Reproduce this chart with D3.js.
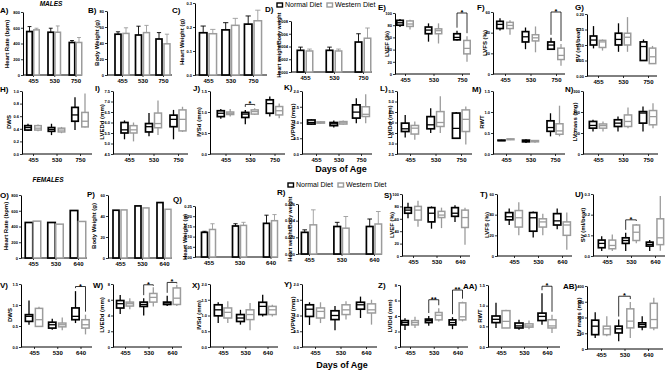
<!DOCTYPE html>
<meta charset="utf-8">
<style>
body{margin:0;background:#fff;}
svg text{font-family:Arial,'Liberation Sans',sans-serif;}
</style>
<body>
<svg id="fig" width="669" height="373"></svg>
<script src="https://cdn.jsdelivr.net/npm/d3@7"></script>
<script>
"use strict";

// groups / series
const daysM = ["455", "530", "750"];
const daysF = ["455", "530", "640"];
const diets = ["Normal Diet", "Western Diet"];

// bar panels: [normal, western] per group, mean and top of error bar
const hrM = [[552, 573], [543, 543], [413, 413]];
const hrM_sd = [[615, 594], [594, 623], [438, 476]];
const bwM = [[51, 52], [50, 53], [45, 39]];
const bwM_sd = [[54, 59], [61, 62], [53, 51]];
const hwM = [[0.176, 0.172], [0.188, 0.207], [0.212, 0.226]];
const hwM_sd = [[0.204, 0.19], [0.218, 0.236], [0.246, 0.27]];
const hwbwM = [[0.0034, 0.0033], [0.0034, 0.0033], [0.0047, 0.0053]];
const hwbwM_sd = [[0.0039, 0.0036], [0.0039, 0.0036], [0.006, 0.0069]];

const hrF = [[451, 468], [451, 430], [603, 464]];
const bwF = [[45.5, 45.8], [49.6, 47.7], [52.8, 46.4]];
const hwF = [[0.121, 0.135], [0.152, 0.155], [0.165, 0.178]];
const hwF_sd = [[0.126, 0.163], [0.163, 0.17], [0.205, 0.208]];
const hwbwF = [[0.0026, 0.0035], [0.0033, 0.0031], [0.0033, 0.0036]];
const hwbwF_sd = [[0.0029, 0.0053], [0.0038, 0.0045], [0.0042, 0.0051]];

// box panels: per group [normal, western], each [min, q1, median, q3, max]
const lvefM = [[[77,80,84,88,90],[73,78,82,87,89]], [[53,66,72,77,83],[50,66,71,74,83]], [[55,56,60,66,71],[20,33,42,55,62]]];
const lvfsM = [[[42,44,48,51,54],[38,44,47,50,52]], [[24,31,36,41,45],[21,32,35,38,46]], [[24,24,28,31,35],[8,14,18,25,29]]];
const svM = [[[0.089,0.1,0.116,0.129,0.161],[0.082,0.092,0.11,0.115,0.118]], [[0.078,0.1,0.118,0.138,0.17],[0.078,0.1,0.125,0.138,0.19]], [[0.05,0.05,0.095,0.11,0.118],[0.04,0.04,0.062,0.09,0.097]]];
const dwsM = [[[0.37,0.38,0.42,0.45,0.48],[0.36,0.38,0.41,0.45,0.47]], [[0.30,0.36,0.39,0.42,0.48],[0.33,0.35,0.38,0.41,0.43]], [[0.38,0.52,0.62,0.74,0.90],[0.42,0.43,0.52,0.66,0.96]]];
const lvedM = [[[5.2,5.5,5.65,6.0,6.1],[5.1,5.5,5.65,5.85,6.0]], [[5.35,5.55,5.8,5.95,6.45],[5.4,5.75,5.95,6.45,7.05]], [[5.2,5.8,6.15,6.35,6.6],[5.55,5.6,6.15,6.6,6.75]]];
const ivsM = [[[0.84,0.89,0.97,1.03,1.07],[0.89,0.94,0.97,1.0,1.07]], [[0.71,0.87,0.95,0.99,1.05],[0.93,0.95,1.01,1.05,1.09]], [[0.89,0.97,1.2,1.29,1.37],[0.85,0.93,1.03,1.13,1.2]]];
const lvpwM = [[[0.93,0.95,1.0,1.08,1.1],[0.95,0.98,1.0,1.02,1.05]], [[0.84,0.9,0.96,1.0,1.06],[0.93,0.95,0.99,1.03,1.06]], [[0.98,1.14,1.33,1.56,1.77],[0.98,1.19,1.26,1.5,1.9]]];
const lvidM = [[[3.29,3.57,3.7,3.97,4.36],[3.18,3.45,3.73,3.86,4.05]], [[3.5,3.7,3.89,4.28,4.68],[3.5,3.81,4.0,4.52,5.25]], [[3.24,3.25,3.72,4.45,4.5],[2.95,3.57,4.15,4.6,4.76]]];
const rwtM = [[[0.31,0.32,0.32,0.33,0.34],[0.33,0.34,0.35,0.36,0.37]], [[0.26,0.29,0.31,0.33,0.35],[0.27,0.29,0.31,0.32,0.33]], [[0.42,0.54,0.63,0.79,0.97],[0.42,0.47,0.55,0.72,1.15]]];
const lvmM = [[[107,123,136,155,163],[107,123,135,143,155]], [[107,131,147,163,178],[123,131,155,186,222]], [[107,147,195,202,226],[123,139,178,207,242]]];

const lvefF = [[[61,69,74,78,86],[47,58,74,80,89]], [[44,55,69,78,80],[45,62,66,72,78]], [[55,64,69,78,82],[18,46,62,74,78]]];
const lvfsF = [[[30,35,38,42,46],[20,28,37,44,52]], [[18,24,37,42,43],[20,28,33,36,41]], [[26,30,34,41,46],[6,20,30,33,42]]];
const svF = [[[0.024,0.04,0.061,0.077,0.095],[0.024,0.035,0.051,0.077,0.104]], [[0.024,0.061,0.075,0.088,0.112],[0.062,0.075,0.115,0.15,0.155]], [[0.024,0.048,0.056,0.067,0.078],[0.025,0.055,0.088,0.18,0.29]]];
const dwsF = [[[0.53,0.61,0.73,0.77,1.11],[0.48,0.49,0.65,0.92,0.96]], [[0.41,0.45,0.53,0.59,0.67],[0.40,0.48,0.53,0.57,0.70]], [[0.57,0.65,0.73,0.93,1.33],[0.30,0.45,0.53,0.65,0.77]]];
const lvedF = [[[4.2,4.95,5.5,5.9,6.6],[4.8,5.2,5.5,5.7,6.2]], [[4.0,5.15,5.4,5.7,6.2],[5.15,5.7,6.3,6.8,7.6]], [[5.2,5.4,5.6,5.7,6.5],[5.2,5.4,6.2,7.5,7.9]]];
const ivsF = [[[0.76,0.99,1.18,1.34,1.42],[0.76,0.92,1.1,1.24,1.45]], [[0.71,0.81,0.92,1.03,1.18],[0.53,0.87,1.03,1.18,1.4]], [[0.97,1.03,1.29,1.42,1.66],[0.97,1.03,1.18,1.29,1.34]]];
const lvpwF = [[[0.7,0.97,1.2,1.34,1.42],[0.76,0.92,1.13,1.24,1.42]], [[0.53,0.87,1.0,1.15,1.3],[0.87,1.03,1.18,1.34,1.45]], [[0.92,1.2,1.34,1.42,1.6],[0.71,1.08,1.18,1.37,1.5]]];
const lvidF = [[[2.2,2.85,3.15,3.4,3.7],[2.45,2.85,3.15,3.4,3.9]], [[2.75,3.15,3.4,3.6,4.0],[3.3,3.5,4.1,4.45,5.0]], [[2.3,2.85,3.15,3.5,3.85],[3.3,3.5,3.9,5.7,5.85]]];
const rwtF = [[[0.46,0.59,0.67,0.75,1.07],[0.46,0.46,0.62,0.88,0.9]], [[0.42,0.46,0.51,0.58,0.66],[0.43,0.48,0.51,0.56,0.64]], [[0.54,0.64,0.74,0.82,1.3],[0.34,0.46,0.51,0.66,0.78]]];
const lvmF = [[[70,91,145,183,234],[81,91,128,145,208]], [[49,102,128,145,187],[70,134,177,255,298]], [[119,140,155,166,208],[119,134,187,290,326]]];

// significance: panel, group, label, bracket level (data units)
const sigs = [
  ["E", "750", "*", 100], ["F", "750", "*", 60], ["J", "530", "*", 1.18],
  ["U", "530", "*", 0.175], ["V", "640", "*", 1.44],
  ["W", "530", "*", 7.9], ["W", "640", "*", 8.2],
  ["Z", "530", "**", 6.1], ["Z", "640", "**", 7.35],
  ["AA", "640", "*", 1.47], ["AB", "530", "*", 335]
];

// panel definitions: id, kind, groups, data, sd, y domain, tick step, format, title
const panels = [
  ["A","bar",daysM,hrM,hrM_sd,[0,800],200,"d","Heart Rate (bpm)"],
  ["B","bar",daysM,bwM,bwM_sd,[0,80],20,"d","Body Weight (g)"],
  ["C","bar",daysM,hwM,hwM_sd,[0,0.3],0.1,".1f","Heart Weight (g)"],
  ["D","bar",daysM,hwbwM,hwbwM_sd,[0,0.008],0.002,".3f","Heart weight/Body weight"],
  ["E","box",daysM,lvefM,null,[0,100],20,"d","LVEF (%)"],
  ["F","box",daysM,lvfsM,null,[0,60],20,"d","LVFS (%)"],
  ["G","box",daysM,svM,null,[0,0.2],0.05,".2f","SV (ml/beat)"],
  ["H","box",daysM,dwsM,null,[0,1],0.2,".1f","DWS"],
  ["I","box",daysM,lvedM,null,[4.5,7.5],0.5,".1f","LVEDd (mm)"],
  ["J","box",daysM,ivsM,null,[0,1.5],0.5,".1f","IVSd (mm)"],
  ["K","box",daysM,lvpwM,null,[0,2],0.5,".1f","LVPWd (mm)"],
  ["L","box",daysM,lvidM,null,[2.5,5.5],0.5,".1f","LVIDd (mm)"],
  ["M","box",daysM,rwtM,null,[0,1.5],0.5,".1f","RWT"],
  ["N","box",daysM,lvmM,null,[0,300],100,"d","LV mass (mg)"],
  ["O","bar",daysF,hrF,null,[0,800],200,"d","Heart Rate (bpm)"],
  ["P","bar",daysF,bwF,null,[0,60],20,"d","Body Weight (g)"],
  ["Q","bar",daysF,hwF,hwF_sd,[0,0.25],0.05,".2f","Heart Weight (g)"],
  ["R","bar",daysF,hwbwF,hwbwF_sd,[0,0.006],0.002,".3f","Heart weight/Body weight"],
  ["S","box",daysF,lvefF,null,[0,100],20,"d","LVEF (%)"],
  ["T","box",daysF,lvfsF,null,[0,60],20,"d","LVFS (%)"],
  ["U","box",daysF,svF,null,[0,0.3],0.1,".1f","SV (ml/beat)"],
  ["V","box",daysF,dwsF,null,[0,1.5],0.5,".1f","DWS"],
  ["W","box",daysF,lvedF,null,[0,8],2,"d","LVEDd (mm)"],
  ["X","box",daysF,ivsF,null,[0,2],0.5,".1f","IVSd (mm)"],
  ["Y","box",daysF,lvpwF,null,[0,2],0.5,".1f","LVPWd (mm)"],
  ["Z","box",daysF,lvidF,null,[0,8],2,"d","LVIDd (mm)"],
  ["AA","box",daysF,rwtF,null,[0,1.5],0.5,".1f","RWT"],
  ["AB","box",daysF,lvmF,null,[0,400],100,"d","LV mass (mg)"]
];

// layout: left, right, first group x, last group x, top, bottom, pair offset, mark width,
// title x, title centre y, letter x, letter y
const layout = {
  A:[23,82,33,75.5,12,75,3.5,5.5,7,44,0,13],
  B:[107,172,122,163,11,75,4,6,97,43,88,13],
  C:[195,267,208,253,3,75,4.8,7.5,182,42,172,13],
  D:[291,372,305,363,21,72,4.5,6.5,279,45,265,12],
  E:[395,470,405,462,13,74,5,6.5,387,44,378,9.5],
  F:[493,565,505,556,12,74,5,6.5,485,43,477,10],
  G:[587,657,598,648,14,76,4.5,6.5,578,45,575,10],
  H:[22,92,33,80,91,154,5,6.5,9,122,0,92],
  I:[113,188,129,178,91,154,4.5,7,102,122,95,91],
  J:[210,285,225.5,274.5,91,154,4.7,7,199,122,193,91],
  K:[302,372,316,361,91,154,4.7,7.5,293,122,284,90],
  L:[397,472,410,461,91,154,4.8,7.5,390,122,380,91],
  M:[493,565,506,555,91,154,4.5,7,482,122,472,92],
  N:[583,658,598,648,91,154,5,7.3,575,122,565,92],
  O:[21,87,33,78,195,258,4,7.5,6,226,0,198],
  P:[108,172,120,164,195,258,4,6,94,226,87,197],
  Q:[195,278,208.5,270.5,206,257,4,6,185,237,173,202],
  R:[298,382,309,374,204,254,4.3,6.6,290,229,277,195],
  S:[402,470,413,460,194,256,5,6.7,392,225,384,198],
  T:[497,572,514,562,194,256,4.8,7.3,487,225,480,197],
  U:[593,665,607,655,194,256,5.3,6.7,583,225,575,197],
  V:[21,92,34,80.5,284,347,5,7.3,10,315,0,288],
  W:[113,182,125,172,284,347,4.8,7.3,102,315,93,288],
  X:[210,278,223,267.5,284,347,4.8,7.7,199,315,192,288],
  Y:[302,377,315,366,284,347,5.5,8,293,315,284,287],
  Z:[400,468,410,457.5,285,347,5,6.7,390,316,378,288],
  AA:[488,560,501,547,285,347,5,8,480,316,463,289],
  AB:[587,663,601,648,286,349,5.8,7,579,317,563,289]
};

const colors = { "Normal Diet": "#000", "Western Diet": "#9c9c9c" };
const widths = { "Normal Diet": 1.7, "Western Diet": 1.5 };
const svg = d3.select("#fig");
const scales = {};

panels.forEach(p => {
  const [id, kind, groups, data, sd, dom, step, f, title] = p;
  const [left, right, first, last, top, bottom, d, w, tx, ty, lx, ly] = layout[id];
  const g = svg.append("g");
  const y = d3.scaleLinear().domain(dom).range([bottom, top]);
  const x = d3.scalePoint().domain(groups).range([first, last]);
  const xi = d3.scalePoint().domain(diets).range([-d, d]);
  scales[id] = { x, xi, y, data, groups };

  const n = Math.round((dom[1] - dom[0]) / step);
  const ticks = d3.range(n + 1).map(i => dom[0] + i * step);

  // y axis
  g.append("g")
    .attr("transform", "translate(" + left + ",0)")
    .call(d3.axisLeft(y).tickValues(ticks).tickSize(2).tickSizeOuter(0).tickFormat(d3.format(f)))
    .call(s => {
      s.select(".domain").attr("stroke-width", 1);
      s.selectAll(".tick line").attr("stroke-width", 0.8);
      s.selectAll("text").attr("font-size", 4).attr("font-weight", "bold").attr("x", -3);
    });

  // x axis
  g.append("line").attr("x1", left).attr("x2", right)
    .attr("y1", bottom).attr("y2", bottom).attr("stroke", "#000").attr("stroke-width", 1);
  g.append("g")
    .attr("transform", "translate(0," + bottom + ")")
    .call(d3.axisBottom(x).tickSize(2).tickSizeOuter(0))
    .call(s => {
      s.select(".domain").remove();
      s.selectAll(".tick line").attr("stroke-width", 0.8);
      s.selectAll("text").attr("font-size", 6).attr("font-weight", "bold").attr("y", 4);
    });

  // titles and letters
  g.append("text")
    .attr("transform", "translate(" + tx + "," + ty + ") rotate(-90)")
    .attr("text-anchor", "middle").attr("dy", "0.35em")
    .attr("font-size", title.length > 20 ? 5.3 : 6).attr("font-weight", "bold")
    .text(title);
  g.append("text").attr("x", lx).attr("y", ly)
    .attr("font-size", 8).attr("font-weight", "bold").text(id + ")");

  groups.forEach((grp, gi) => {
    diets.forEach((dt, di) => {
      const cx = x(grp) + xi(dt);
      const col = colors[dt];
      if (kind === "bar") {
        const v = data[gi][di];
        if (sd) {
          const e = sd[gi][di];
          g.append("line").attr("x1", cx).attr("x2", cx).attr("y1", y(v)).attr("y2", y(e))
            .attr("stroke", col).attr("stroke-width", 0.9);
          g.append("line").attr("x1", cx - w * 0.35).attr("x2", cx + w * 0.35).attr("y1", y(e)).attr("y2", y(e))
            .attr("stroke", col).attr("stroke-width", 0.9);
        }
        g.append("rect").attr("x", cx - w / 2).attr("y", y(v))
          .attr("width", w).attr("height", y(dom[0]) - y(v))
          .attr("fill", "#fff").attr("stroke", col).attr("stroke-width", widths[dt]);
      } else {
        const [mn, q1, md, q3, mx] = data[gi][di];
        g.append("line").attr("x1", cx).attr("x2", cx).attr("y1", y(mn)).attr("y2", y(mx))
          .attr("stroke", col).attr("stroke-width", 1.3);
        g.append("rect").attr("x", cx - w / 2).attr("y", y(q3))
          .attr("width", w).attr("height", Math.max(0.5, y(q1) - y(q3)))
          .attr("fill", "#fff").attr("stroke", col).attr("stroke-width", widths[dt]);
        g.append("line").attr("x1", cx - w / 2).attr("x2", cx + w / 2).attr("y1", y(md)).attr("y2", y(md))
          .attr("stroke", col).attr("stroke-width", 1.3);
      }
    });
  });
});

// significance brackets
sigs.forEach(([id, grp, lab, lvl]) => {
  const s = scales[id];
  const gi = s.groups.indexOf(grp);
  const xa = s.x(grp) + s.xi(diets[0]);
  const xb = s.x(grp) + s.xi(diets[1]);
  const yb = s.y(lvl);
  const ya = Math.max(yb + 1, s.y(s.data[gi][0][4]) - 3);
  const yc = Math.max(yb + 1, s.y(s.data[gi][1][4]) - 3);
  svg.append("path")
    .attr("d", "M" + xa + "," + ya + "V" + yb + "H" + xb + "V" + yc)
    .attr("fill", "none").attr("stroke", "#000").attr("stroke-width", 0.8);
  svg.append("text").attr("x", (xa + xb) / 2).attr("y", yb + 2)
    .attr("text-anchor", "middle").attr("font-size", 7.5).attr("font-weight", "bold").text(lab);
});

// legends
function legend(x0, y0) {
  diets.forEach((dt, i) => {
    const lx = x0 + i * 50;
    svg.append("rect").attr("x", lx).attr("y", y0 - 2).attr("width", 5.5).attr("height", 4)
      .attr("fill", "#fff").attr("stroke", colors[dt]).attr("stroke-width", 1.4);
    svg.append("text").attr("x", lx + 8).attr("y", y0).attr("dy", "0.35em")
      .attr("font-size", 7).text(dt);
  });
}
legend(277, 5);
legend(288, 185);

svg.append("text").attr("x", 51).attr("y", 6).attr("text-anchor", "middle")
  .attr("font-size", 6.5).attr("font-weight", "bold").attr("font-style", "italic").text("MALES");
svg.append("text").attr("x", 48).attr("y", 182).attr("text-anchor", "middle")
  .attr("font-size", 6.5).attr("font-weight", "bold").attr("font-style", "italic").text("FEMALES");
svg.append("text").attr("x", 341).attr("y", 172).attr("text-anchor", "middle")
  .attr("font-size", 9).attr("font-weight", "bold").text("Days of Age");
svg.append("text").attr("x", 342).attr("y", 368).attr("text-anchor", "middle")
  .attr("font-size", 9).attr("font-weight", "bold").text("Days of Age");
</script>
</body>
